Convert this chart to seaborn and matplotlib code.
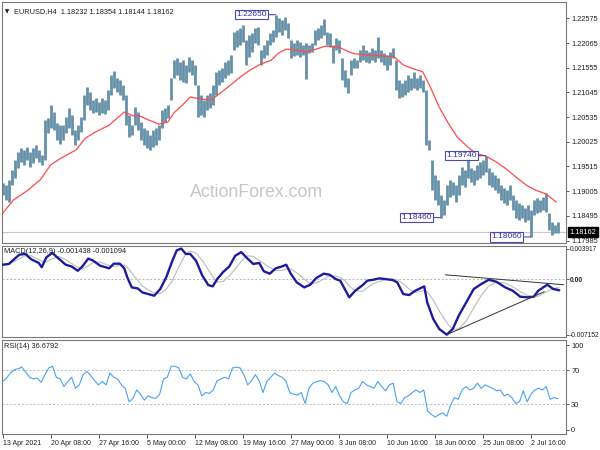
import numpy as np
import pandas as pd
import matplotlib
matplotlib.use("Agg")
import matplotlib.pyplot as plt
import matplotlib.transforms as mtrans
import seaborn as sns

# ---------------- data ----------------
x_tick_labels = ["13 Apr 2021", "20 Apr 08:00", "27 Apr 16:00", "5 May 00:00", "12 May 08:00",
                 "19 May 16:00", "27 May 00:00", "3 Jun 08:00", "10 Jun 16:00", "18 Jun 00:00",
                 "25 Jun 08:00", "2 Jul 16:00"]
x_tick_bars = [0, 32, 64, 96, 128, 160, 192, 224, 256, 288, 320, 352]

# high / low of each pair of H4 bars
bar_high = [1.1917,1.1913,1.1924,1.1944,1.1965,1.1981,1.1990,1.1986,1.1992,1.1981,
            1.1990,1.1996,1.1986,1.1975,1.2048,1.2052,1.2079,1.2064,1.2041,1.2037,
            1.2037,1.2054,1.2072,1.2058,1.2027,1.2037,1.2054,1.2099,1.2116,1.2105,
            1.2089,1.2093,1.2085,1.2093,1.2089,1.2109,1.2140,1.2149,1.2134,1.2130,
            1.2120,1.2099,1.2058,1.2037,1.2074,1.2064,1.2043,1.2031,1.2027,1.2017,
            1.2027,1.2031,1.2037,1.2068,1.2072,1.2079,1.2134,1.2171,1.2175,1.2167,
            1.2171,1.2161,1.2178,1.2171,1.2161,1.2120,1.2099,1.2089,1.2099,1.2103,
            1.2120,1.2147,1.2151,1.2155,1.2167,1.2171,1.2182,1.2229,1.2233,1.2237,
            1.2244,1.2213,1.2223,1.2227,1.2237,1.2240,1.2192,1.2202,1.2213,1.2227,
            1.2233,1.2265,1.2258,1.2254,1.2260,1.2248,1.2213,1.2207,1.2213,1.2209,
            1.2202,1.2207,1.2202,1.2207,1.2233,1.2237,1.2244,1.2256,1.2229,1.2227,
            1.2202,1.2217,1.2213,1.2175,1.2151,1.2134,1.2171,1.2175,1.2171,1.2192,
            1.2202,1.2192,1.2188,1.2196,1.2192,1.2219,1.2192,1.2186,1.2182,1.2188,
            1.2196,1.2171,1.2130,1.2124,1.2130,1.2140,1.2134,1.2147,1.2134,1.2140,
            1.2130,1.2109,1.2006,1.1965,1.1934,1.1924,1.1893,1.1882,1.1913,1.1924,
            1.1919,1.1913,1.1934,1.1950,1.1944,1.1971,1.1948,1.1944,1.1955,1.1961,
            1.1965,1.1974,1.1948,1.1940,1.1934,1.1928,1.1913,1.1907,1.1903,1.1913,
            1.1893,1.1882,1.1876,1.1872,1.1866,1.1872,1.1862,1.1882,1.1886,1.1882,
            1.1889,1.1897,1.1855,1.1837,1.1831,1.1837]
bar_low = [1.1893,1.1882,1.1878,1.1913,1.1928,1.1948,1.1961,1.1955,1.1965,1.1950,
           1.1959,1.1969,1.1961,1.1955,1.1965,1.2021,1.2031,1.2027,1.2006,1.1998,
           1.2006,1.2021,1.2031,1.2017,1.1996,1.2006,1.2023,1.2048,1.2079,1.2068,
           1.2062,1.2064,1.2058,1.2062,1.2060,1.2068,1.2099,1.2114,1.2105,1.2099,
           1.2089,1.2037,1.2012,1.2017,1.2037,1.2027,1.2006,1.1996,1.1990,1.1986,
           1.1992,1.1996,1.2006,1.2031,1.2043,1.2052,1.2089,1.2134,1.2140,1.2130,
           1.2126,1.2124,1.2147,1.2140,1.2120,1.2054,1.2058,1.2054,1.2068,1.2072,
           1.2079,1.2099,1.2120,1.2126,1.2134,1.2140,1.2145,1.2192,1.2198,1.2202,
           1.2209,1.2161,1.2178,1.2188,1.2207,1.2202,1.2161,1.2175,1.2182,1.2202,
           1.2209,1.2219,1.2229,1.2223,1.2233,1.2217,1.2175,1.2180,1.2182,1.2178,
           1.2182,1.2132,1.2186,1.2188,1.2202,1.2213,1.2217,1.2223,1.2202,1.2198,
           1.2165,1.2192,1.2186,1.2130,1.2116,1.2103,1.2140,1.2155,1.2155,1.2167,
           1.2171,1.2167,1.2165,1.2171,1.2167,1.2175,1.2167,1.2161,1.2151,1.2161,
           1.2175,1.2109,1.2093,1.2095,1.2099,1.2105,1.2109,1.2114,1.2109,1.2114,
           1.2105,1.1996,1.1986,1.1903,1.1882,1.1872,1.1846,1.1851,1.1872,1.1889,
           1.1893,1.1878,1.1893,1.1913,1.1909,1.1928,1.1919,1.1913,1.1924,1.1928,
           1.1934,1.1940,1.1913,1.1909,1.1903,1.1897,1.1882,1.1876,1.1872,1.1882,
           1.1862,1.1845,1.1841,1.1845,1.1837,1.1841,1.1806,1.1851,1.1855,1.1857,
           1.1862,1.1857,1.1820,1.1810,1.1814,1.1814]

ma_bars = [0,7,17,25,32,39,49,55,62,71,81,87,91,97,104,110,114,120,125,132,
           139,145,152,159,165,172,179,184,189,195,202,209,215,224,231,235,242,252,261,267,
           274,280,285,291,297,303,310,315,322,329,335,342,349,355,362,369]
ma_values = [1.1855,1.1882,1.1903,1.1924,1.1955,1.1969,1.1986,1.2010,1.2023,1.2037,
             1.2064,1.2056,1.2056,1.2048,1.2039,1.2043,1.2062,1.2079,1.2095,1.2091,
             1.2089,1.2103,1.2120,1.2138,1.2151,1.2163,1.2171,1.2186,1.2194,1.2192,
             1.2188,1.2194,1.2200,1.2198,1.2188,1.2184,1.2182,1.2180,1.2178,1.2161,
             1.2153,1.2147,1.2116,1.2074,1.2041,1.2012,1.1992,1.1979,1.1973,1.1961,
             1.1948,1.1930,1.1913,1.1903,1.1895,1.1878]

last_price = 1.18162
price_ticks = [1.22575, 1.22065, 1.21555, 1.21045, 1.20535, 1.20025, 1.19515, 1.19005, 1.18495, 1.17985]
label_bars = [182, 322, 292, 352]
label_prices = [1.22650, 1.19740, 1.18460, 1.18060]

macd_bars = [0,4,11,15,19,24,26,29,33,37,42,46,50,53,57,60,65,71,74,78,
             81,83,86,90,93,97,101,105,109,113,116,119,122,125,129,133,137,140,143,147,
             151,155,159,163,167,171,174,178,182,186,189,192,196,201,205,209,214,218,222,225,
             228,231,235,240,243,247,251,255,260,263,267,271,275,281,283,287,291,296,300,304,
             309,314,319,324,329,335,340,345,350,354,357,363,367,371]
macd_main = [1.84,1.94,3.13,3.23,2.54,2.07,1.52,2.77,3.37,2.67,1.84,1.61,1.06,1.61,2.63,2.40,1.71,1.38,1.98,1.98,
             1.38,0.23,-1.07,-1.20,-1.71,-1.93,-2.14,-1.28,0.23,2.31,3.69,3.92,3.23,3.23,2.31,0.46,-0.77,-0.94,0.0,0.92,
             1.61,3.00,3.46,2.67,1.94,2.07,1.01,0.69,1.38,1.61,1.84,0.69,-0.43,-1.07,-0.73,0.14,0.69,0.55,0.0,-0.21,
             -1.28,-2.35,-1.50,-0.77,-0.21,-0.09,0.09,0.0,-0.13,-0.43,-1.93,-2.05,-1.50,-0.94,-3.00,-5.14,-6.42,-7.15,-6.42,-4.71,
             -3.00,-1.28,-0.64,-0.09,-0.34,-1.07,-1.50,-2.27,-2.35,-2.27,-1.50,-0.73,-1.28,-1.44]
macd_signal = [1.9,1.9,2.6,3.0,3.0,2.5,2.3,2.2,2.6,2.9,2.5,2.0,1.5,1.3,1.7,2.1,2.2,1.7,1.6,1.8,
               1.8,1.5,0.8,-0.2,-0.9,-1.4,-1.8,-1.9,-1.3,-0.2,1.0,2.2,3.2,3.6,3.3,2.4,1.2,0.3,-0.4,-0.3,
               0.4,1.3,2.3,3.0,2.9,2.4,2.0,1.5,1.1,1.1,1.3,1.3,0.8,0.0,-0.6,-0.5,0.0,0.4,0.4,0.2,
               -0.2,-0.9,-1.5,-1.6,-1.1,-0.6,-0.3,-0.1,0.0,-0.1,-0.6,-1.3,-1.7,-1.5,-1.6,-2.7,-4.1,-5.6,-6.5,-6.4,
               -5.4,-3.7,-2.1,-0.9,-0.4,-0.5,-1.0,-1.6,-2.1,-2.3,-2.2,-1.6,-1.2,-1.09]
macd_ticks = [0.003917, 0.0, -0.007152]
macd_tick_labels = ["0.003917", "0.00", "-0.007152"]
trend_upper_bars = [295, 374]
trend_upper_vals = [0.55, -0.73]
trend_lower_bars = [296, 361]
trend_lower_vals = [-7.15, -1.63]

rsi_values = [57,61,67,71,72,74,68,62,60,61,
              56,65,73,75,62,60,51,57,62,49,
              53,65,69,64,58,53,57,53,67,62,
              60,53,49,33,37,47,42,35,40,38,
              37,42,60,62,75,75,73,62,60,66,
              57,53,40,44,43,47,58,60,62,60,
              73,74,73,65,53,58,65,58,44,57,
              62,67,64,62,57,44,42,41,44,31,
              49,55,57,58,57,53,44,51,40,33,
              31,44,47,49,57,53,51,49,57,51,
              46,53,55,33,31,38,40,44,47,44,
              47,22,18,15,18,20,16,29,38,36,
              47,51,47,49,55,49,53,51,49,46,
              47,40,42,38,31,33,46,33,42,47,
              49,47,51,36,38,36.7]
rsi_ticks = [100, 70, 30, 0]

# ---------------- styling ----------------
sns.set_theme(style="white")
plt.rcParams["font.family"] = ["Liberation Sans", "DejaVu Sans"]

W, H = 600, 450
fig = plt.figure(figsize=(6, 4.5), dpi=100)
fig.patch.set_facecolor("white")

def rect(l, t, r, b):
    return [l / W, 1 - b / H, (r - l) / W, (b - t) / H]

ax1 = fig.add_axes(rect(2, 2, 566, 243))
ax2 = fig.add_axes(rect(2, 246, 566, 337))
ax3 = fig.add_axes(rect(2, 340, 566, 434))

XMIN = -0.5
XMAX = XMIN + 564 / 1.5
FS = 5.3
BAR_COLOR = "#6590a8"

for ax in (ax1, ax2, ax3):
    ax.set_facecolor("white")
    ax.set_xlim(XMIN, XMAX)
    ax.yaxis.tick_right()
    ax.tick_params(axis="y", left=False, right=True, labelleft=False, labelright=True,
                   direction="out", length=2.5, width=0.6, color="#404040",
                   labelsize=FS, pad=1.2, labelcolor="#202020")
    ax.tick_params(axis="x", bottom=False, labelbottom=False)
    for s in ax.spines.values():
        s.set_color("#7a7a7a")
        s.set_linewidth(0.8)
    ax.grid(False)

# ---- main price panel ----
bars_df = pd.DataFrame({"bar": np.arange(len(bar_high)) * 2, "high": bar_high, "low": bar_low})
ax1.axhline(last_price, color="#c8c8c8", lw=0.8, zorder=1)
ax1.vlines(bars_df["bar"], bars_df["low"], bars_df["high"], color=BAR_COLOR, lw=2.0, zorder=2)
ma_df = pd.DataFrame({"bar": ma_bars, "ma": ma_values})
sns.lineplot(data=ma_df, x="bar", y="ma", ax=ax1, color="#ff4a4a", lw=0.9, estimator=None, sort=False, zorder=3)
ax1.set_ylim(1.17935, 1.22912)
ax1.set_yticks(price_ticks)
ax1.set_yticklabels([f"{p:.5f}" for p in price_ticks])
ax1.set_xlabel("")
ax1.set_ylabel("")

for b, p in zip(label_bars, label_prices):
    ax1.annotate(f"{p:.5f}", xy=(b, p), xytext=(-9, 0), textcoords="offset pixels",
                 ha="right", va="center", fontsize=6, color="#2f2fa8",
                 bbox=dict(boxstyle="square,pad=0.15", fc="white", ec="#4b4bb8", lw=0.8),
                 arrowprops=dict(arrowstyle="-", color="#4b4bb8", lw=0.8, shrinkA=0, shrinkB=0),
                 zorder=5)

tr = mtrans.blended_transform_factory(ax1.transAxes, ax1.transData)
ax1.text(1.006, last_price, f"{last_price:.5f}", transform=tr, ha="left", va="center",
         fontsize=FS, color="white", clip_on=False,
         bbox=dict(boxstyle="square,pad=0.2", fc="black", ec="black"), zorder=6)

fig.text(257 / W, 1 - 192 / H, "ActionForex.com", fontsize=12.8, color="#c6c6c6",
         ha="center", va="center")
fig.text(5 / W, 1 - 11.5 / H, "\u25BC", fontsize=4, color="#202020", ha="left", va="center",
         family=["DejaVu Sans"])
fig.text(14 / W, 1 - 12 / H, "EURUSD,H4  1.18232 1.18354 1.18144 1.18162", fontsize=5.3,
         color="#202020", ha="left", va="center")

# ---- MACD panel ----
macd_df = pd.DataFrame({"bar": macd_bars, "macd": np.array(macd_main) / 1000,
                        "signal": np.array(macd_signal) / 1000})
ax2.axhline(0, color="#b5b5b5", lw=0.7, ls=(0, (2, 2)), zorder=1)
sns.lineplot(data=macd_df, x="bar", y="signal", ax=ax2, color="#bcbcbc", lw=0.8, estimator=None, sort=False, zorder=2)
sns.lineplot(data=macd_df, x="bar", y="macd", ax=ax2, color="#1c1c9c", lw=1.7, estimator=None, sort=False, zorder=3)
ax2.plot(trend_upper_bars, np.array(trend_upper_vals) / 1000, color="#333333", lw=0.7, zorder=4)
ax2.plot(trend_lower_bars, np.array(trend_lower_vals) / 1000, color="#333333", lw=0.7, zorder=4)
ax2.set_ylim(-0.00745, 0.00425)
ax2.set_yticks(macd_ticks)
ax2.set_yticklabels(macd_tick_labels)
ax2.tick_params(axis="y", labelsize=4.8, pad=0.6, length=2)
for lab in ax2.get_yticklabels():
    if lab.get_text() == "0.00":
        lab.set_fontweight("bold")
ax2.set_xlabel("")
ax2.set_ylabel("")
fig.text(4 / W, 1 - 251 / H, "MACD(12,26,9) -0.001438 -0.001094", fontsize=5.3,
         color="#202020", ha="left", va="center")

# ---- RSI panel ----
rsi_df = pd.DataFrame({"bar": np.linspace(0, 370, len(rsi_values)), "rsi": rsi_values})
for lvl in (70, 30):
    ax3.axhline(lvl, color="#bdbdbd", lw=0.7, ls=(0, (2, 2)), zorder=1)
sns.lineplot(data=rsi_df, x="bar", y="rsi", ax=ax3, color="#4aa2f5", lw=0.8, estimator=None, sort=False, zorder=3)
ax3.set_ylim(-5, 106)
ax3.set_yticks(rsi_ticks)
ax3.set_yticklabels([str(v) for v in rsi_ticks])
ax3.set_ylabel("")
ax3.set_xlabel("")
ax3.set_xticks(x_tick_bars)
ax3.set_xticklabels(x_tick_labels, ha="left")
ax3.tick_params(axis="x", bottom=True, labelbottom=True, direction="out", length=3, width=0.6,
                color="#404040", labelsize=5.0, pad=1.5, labelcolor="#202020")
fig.text(4 / W, 1 - 346 / H, "RSI(14) 36.6792", fontsize=5.3, color="#202020",
         ha="left", va="center")

fig.savefig("out.png", dpi=100, facecolor="white")
